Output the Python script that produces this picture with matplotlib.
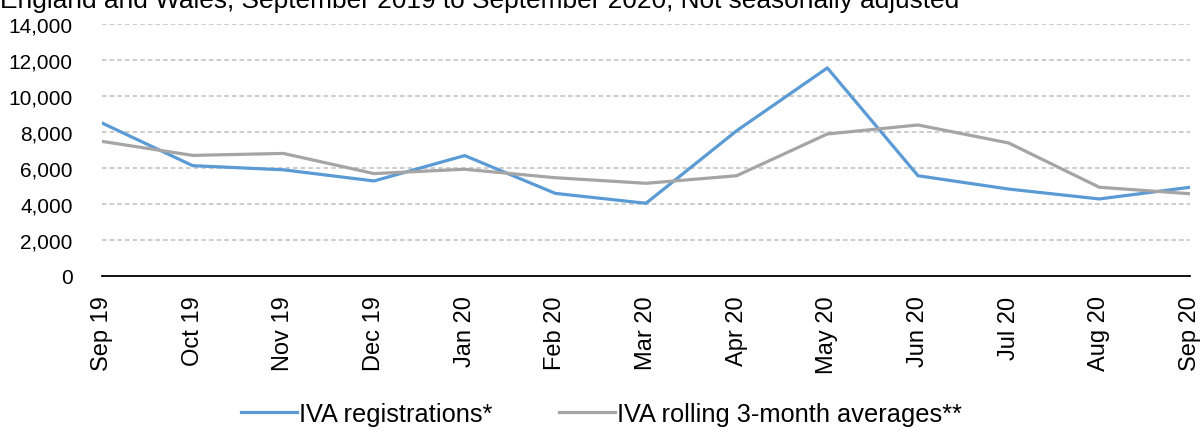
import matplotlib.pyplot as plt
from matplotlib.ticker import FuncFormatter

months = ["Sep 19", "Oct 19", "Nov 19", "Dec 19", "Jan 20", "Feb 20", "Mar 20",
          "Apr 20", "May 20", "Jun 20", "Jul 20", "Aug 20", "Sep 20"]
registrations = [8500, 6130, 5900, 5280, 6690, 4590, 4040, 8070, 11560, 5570, 4830, 4280, 4930]
rolling_avg = [7480, 6700, 6810, 5690, 5930, 5460, 5150, 5570, 7890, 8390, 7390, 4930, 4570]

title = "England and Wales, September 2019 to September 2020, Not seasonally adjusted"

plt.rcParams["font.family"] = ["Liberation Sans", "DejaVu Sans"]

fig = plt.figure(figsize=(12.03, 4.35), dpi=100)
ax = fig.add_axes([102 / 1203, 1 - 277 / 435, (1190 - 102) / 1203, (277 - 25) / 435])

x = list(range(len(months)))
ax.plot(x, registrations, color="#5B9BD5", lw=2.3, label="IVA registrations*", zorder=3)
ax.plot(x, rolling_avg, color="#A5A5A5", lw=2.3, label="IVA rolling 3-month averages**", zorder=3)

ax.set_xlim(0, len(months) - 1)
ax.set_ylim(0, 14000)
ax.set_yticks(range(0, 14001, 2000))
ax.yaxis.set_major_formatter(FuncFormatter(lambda v, p: f"{int(v):,}"))
ax.yaxis.grid(True, ls=(0, (3, 2)), color="#BFBFBF", lw=1.1)
ax.set_axisbelow(True)

# labels every month, tick marks only every 4 months
ax.set_xticks(x)
ax.set_xticklabels(months, rotation=90)
ax.set_xticks([0, 4, 8, 12], minor=True)
ax.tick_params(axis="x", which="major", length=0, pad=14, labelsize=17)
ax.tick_params(axis="x", which="minor", length=6, width=1.1, color="black")
ax.tick_params(axis="y", length=0, pad=21, labelsize=15)

for s in ["top", "right", "left"]:
    ax.spines[s].set_visible(False)
ax.spines["bottom"].set_linewidth(1.3)
ax.spines["bottom"].set_color("black")

fig.text(0.0, 1 - 8 / 435, title, fontsize=18.9, ha="left", va="baseline")

fig.legend(loc="center", bbox_to_anchor=(0.5, 1 - 415 / 435), ncol=2, frameon=False,
           fontsize=18.3, handlelength=2.2, columnspacing=2.6, handletextpad=0.1)

fig.savefig("out.png", dpi=100)
